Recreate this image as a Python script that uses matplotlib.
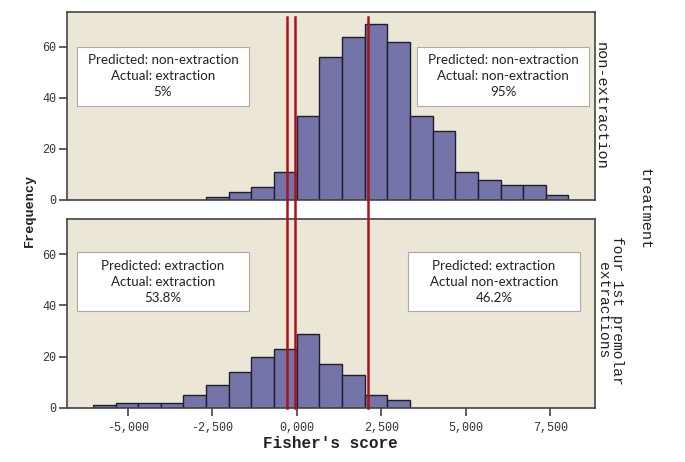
import numpy as np
import matplotlib.pyplot as plt
from matplotlib.patches import Rectangle
from matplotlib.lines import Line2D
import matplotlib.transforms as mtransforms

# === Données ===
largeur_classe = 670
# histogramme "non-extraction" : classes de -4w à 12w
bords_haut = np.arange(-4, 13) * largeur_classe
freq_haut = [1, 3, 5, 11, 33, 56, 64, 69, 62, 33, 27, 11, 8, 6, 6, 2]
# histogramme "four 1st premolar extractions" : classes de -9w à 5w
bords_bas = np.arange(-9, 6) * largeur_classe
freq_bas = [1, 2, 2, 2, 5, 9, 14, 20, 23, 29, 17, 13, 5, 3]

seuils = [-296, -41, 2101]  # lignes rouges verticales

ticks_x = [-5000, -2500, 0, 2500, 5000, 7500]
labels_x = ["-5,000", "-2,500", "0,000", "2,500", "5,000", "7,500"]
ticks_y = [0, 20, 40, 60]

textes_haut = [("Predicted: non-extraction\nActual: extraction\n5%", "left"),
               ("Predicted: non-extraction\nActual: non-extraction\n95%", "right")]
textes_bas = [("Predicted: extraction\nActual: extraction\n53.8%", "left"),
              ("Predicted: extraction\nActual non-extraction\n46.2%", "right")]

# === Style ===
fond = "#EBE6D5"
barre = "#7474A8"
rouge = "#A8141C"
gris = "#444444"
mono = "Liberation Mono"
sans = "Lato"

W, H = 685, 462
fig = plt.figure(figsize=(W / 100, H / 100), dpi=100)


def px_axes(x0, x1, y0, y1):
    return fig.add_axes([x0 / W, (H - y1) / H, (x1 - x0) / W, (y1 - y0) / H])


ax_haut = px_axes(67, 595, 12, 200)
ax_bas = px_axes(67, 595, 219, 408)

for ax, bords, freq in [(ax_haut, bords_haut, freq_haut), (ax_bas, bords_bas, freq_bas)]:
    ax.set_facecolor(fond)
    ax.bar(bords[:-1], freq, width=np.diff(bords), align="edge",
           color=barre, edgecolor="#1E1E30", linewidth=1.0, zorder=2)
    ax.set_xlim(-6796, 8825)
    ax.set_ylim(0, 73.7)
    ax.set_yticks(ticks_y)
    ax.set_yticklabels([str(t) for t in ticks_y], fontfamily=mono, fontsize=8.5, color="#333333")
    ax.tick_params(axis="y", direction="out", length=6, width=1.2, color=gris, pad=2)
    for s in ax.spines.values():
        s.set_color(gris)
        s.set_linewidth(1.2)

ax_haut.set_xticks([])
ax_bas.set_xticks(ticks_x)
ax_bas.set_xticklabels(labels_x, fontfamily=mono, fontsize=8.5, color="#333333")
ax_bas.tick_params(axis="x", direction="out", length=6, width=1.2, color=gris, pad=4)


# Boîtes de texte (positions en pixels)
def boite(ax, texte, cote, haut_px):
    x0 = 77 if cote == "left" else (417 if ax is ax_haut else 408)
    x1 = x0 + 172
    y0 = haut_px
    y1 = haut_px + 59
    rect = Rectangle((x0 / W, (H - y1) / H), (x1 - x0) / W, (y1 - y0) / H,
                     transform=fig.transFigure, facecolor="white", edgecolor="#AAAAAA",
                     linewidth=0.8, zorder=5)
    fig.patches.append(rect)
    fig.text((x0 + x1) / 2 / W, (H - (y0 + y1) / 2) / H, texte, ha="center", va="center",
             fontfamily=sans, fontsize=9.6, color="#222222", linespacing=1.4, zorder=6)


for t, c in textes_haut:
    boite(ax_haut, t, c, 47)
for t, c in textes_bas:
    boite(ax_bas, t, c, 252)

# Lignes rouges traversant les deux panneaux
trans = mtransforms.blended_transform_factory(ax_bas.transData, fig.transFigure)
for s in seuils:
    fig.lines.append(Line2D([s, s], [(H - 408) / H, (H - 17) / H], transform=trans,
                            color=rouge, linewidth=1.8, zorder=7))

# Libellés
fig.text(30 / W, (H - 210) / H, "Frequency", rotation=90, ha="center", va="center",
         fontfamily=mono, fontweight="bold", fontsize=9.7, color="#222222")
fig.text(330 / W, (H - 443) / H, "Fisher's score", ha="center", va="center",
         fontfamily=mono, fontweight="bold", fontsize=11.5, color="#222222")
fig.text(601 / W, (H - 106) / H, "non-extraction", rotation=-90, ha="center", va="center",
         fontfamily=mono, fontsize=11, color="#222222")
fig.text(610 / W, (H - 310) / H, "four 1st premolar\nextractions", rotation=-90,
         ha="center", va="center", multialignment="center",
         fontfamily=mono, fontsize=10.5, color="#222222", linespacing=1.0)
fig.text(645 / W, (H - 209) / H, "treatment", rotation=-90, ha="center", va="center",
         fontfamily=mono, fontsize=11, color="#222222")

fig.savefig("out.png", dpi=100, facecolor="white")
